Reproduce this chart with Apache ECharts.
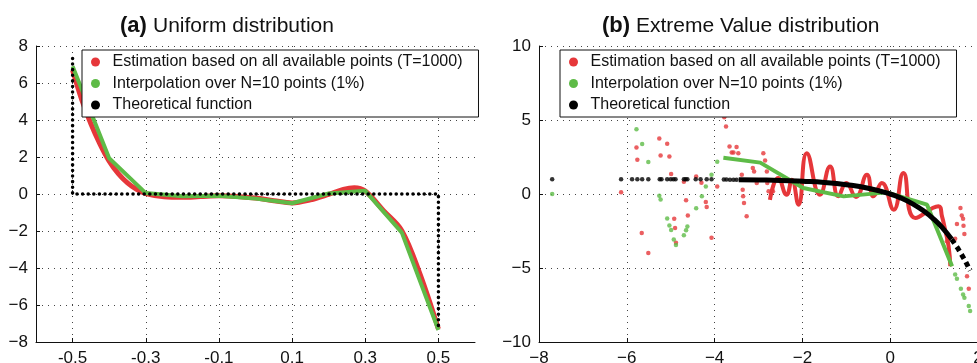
<!DOCTYPE html>
<html>
<head>
<meta charset="utf-8">
<script src="https://cdn.jsdelivr.net/npm/echarts@6/dist/echarts.min.js"></script>
<style>
  html, body { margin: 0; padding: 0; background: #fff; }
  #chart { width: 977px; height: 363px; }
</style>
</head>
<body>
<div id="chart"></div>
<script>
const NAME_EST = 'Estimation based on all available points (T=1000)';
const NAME_INT = 'Interpolation over N=10 points (1%)';
const NAME_THEO = 'Theoretical function';

const RED = '#e6373a';
const GREEN = '#5ebb47';
const BLACK = '#000';

// (a) Uniform distribution
const uniXTicks = [-0.5, -0.3, -0.1, 0.1, 0.3, 0.5];
const uniTheory = [[-0.5, 7.33], [-0.5, 0], [0.5, 0], [0.5, -7.31]];
const uniEstimate = [
  [-0.5, 6.7], [-0.475, 5.1], [-0.45, 3.8], [-0.425, 2.7], [-0.4, 1.78], [-0.375, 1.1],
  [-0.35, 0.6], [-0.325, 0.25], [-0.3, 0.02], [-0.25, -0.15], [-0.2, -0.18], [-0.15, -0.14],
  [-0.1, -0.1], [-0.05, -0.13], [0, -0.22], [0.05, -0.36], [0.1, -0.48], [0.15, -0.32],
  [0.2, -0.02], [0.24, 0.25], [0.27, 0.34], [0.3, 0.16], [0.35, -0.9], [0.4, -1.98],
  [0.45, -4.35], [0.5, -7.3]
];
const uniInterp = [
  [-0.5, 6.9], [-0.4, 1.93], [-0.3, 0.05], [-0.2, -0.12], [-0.1, -0.1], [0, -0.25],
  [0.1, -0.5], [0.2, 0.03], [0.3, 0.17], [0.4, -2.09], [0.5, -7.35]
];

// (b) Extreme Value distribution
const evTheoryDots = [
  [-7.70, 1], [-6.13, 1], [-5.88, 1], [-5.76, 1], [-5.65, 1], [-5.51, 1], [-5.25, 1],
  [-5.21, 1], [-5.08, 1], [-5.00, 1], [-4.94, 1], [-4.89, 1], [-4.70, 1], [-4.66, 1],
  [-4.62, 1], [-4.43, 1], [-4.32, 1], [-4.18, 1], [-4.07, 1], [-3.79, 0.98], [-3.73, 0.98],
  [-3.65, 0.97], [-3.57, 0.97], [-3.50, 0.97]
];
const evTheoryCurve = [
  [-3.45, 0.97], [-3, 0.95], [-2.5, 0.92], [-2, 0.86], [-1.5, 0.78], [-1, 0.63],
  [-0.5, 0.39], [0, 0], [0.25, -0.28], [0.5, -0.65], [0.75, -1.12], [1, -1.72],
  [1.2, -2.32], [1.4, -3.06]
];
const evTheoryTail = [[1.4, -3.06], [1.55, -3.71], [1.7, -4.47], [1.82, -5.17]];

const evEstimateCurve = [
  [-2.74, -0.4], [-2.55, 1.08], [-2.36, -0.05], [-2.24, 0.96], [-2.09, -0.72], [-1.9, 2.76],
  [-1.6, -0.05], [-1.37, 1.86], [-1.18, -0.16], [-1.0, 0.75], [-0.78, -0.2], [-0.53, 1.3],
  [-0.38, -0.16], [-0.19, 0.74], [0.08, -1.06], [0.3, 1.42], [0.57, -1.62], [1.1, -0.83],
  [1.18, -1.51], [1.25, -2.41], [1.33, -3.53], [1.37, -4.88]
];
const evEstimateDots = [
  [-6.13, 0.11], [-5.78, 3.14], [-5.76, 2.31], [-5.66, -2.63], [-5.51, -3.98], [-5.26, 3.75],
  [-5.23, 2.6], [-5.08, 3.39], [-5.03, 2.53], [-4.99, 1.35], [-4.92, -1.68], [-4.90, -2.29],
  [-4.88, -3.3], [-4.70, 0.83], [-4.65, -0.43], [-4.61, -1.46], [-4.42, 1.19], [-4.30, 0.76],
  [-4.20, -0.54], [-4.18, -0.88], [-4.07, -2.96], [-3.94, 0.51], [-3.78, 5.19], [-3.74, 4.56],
  [-3.66, 3.21], [-3.61, 2.8], [-3.57, 2.8], [-3.50, 3.17], [-3.46, 2.76], [-3.38, 1.3],
  [-3.36, 0.29], [-3.35, -0.16], [-3.33, -0.61], [-3.27, -1.51], [-3.13, 1.75], [-3.10, 1.52],
  [-3.04, 0.74], [-2.89, 2.76], [-2.85, 2.26], [-2.81, 1.52], [-2.80, 0.74], [-2.77, 0.18],
  [-2.67, 0.18], [1.29, -3.19], [1.33, -3.98], [1.48, -3.03], [1.52, -2.02], [1.60, -0.94],
  [1.63, -1.46], [1.66, -1.68], [1.67, -2.14], [1.69, -2.70], [1.75, -5.55], [1.79, -6.40]
];
const evInterpLine = [
  [-3.8, 2.45], [-2.96, 2.12], [-1.98, 0.4], [-1.06, -0.16], [-0.08, 0.11], [0.84, -0.72],
  [1.41, -4.88]
];
const evInterpDots = [
  [-7.70, 0], [-5.78, 4.38], [-5.65, 3.37], [-5.51, 2.16], [-5.26, -0.11], [-5.23, -0.38],
  [-5.08, -1.66], [-5.03, -2.12], [-4.99, -2.43], [-4.93, -3.08], [-4.88, -3.44], [-4.70, -2.79],
  [-4.65, -2.45], [-4.62, -2.2], [-4.42, -0.97], [-4.29, -0.16], [-4.20, 0.51], [-4.07, 1.3],
  [-3.94, 2.18], [1.48, -5.44], [1.52, -5.73], [1.61, -6.40], [1.66, -6.79], [1.69, -7.01],
  [1.79, -7.57], [1.82, -7.91]
];

const FONT = "'Liberation Sans', Arial, sans-serif";
const minus = (v) => String(v).replace('-', '\u2212');

const chart = echarts.init(document.getElementById('chart'), null, { renderer: 'canvas' });

const gridLine = { show: true, lineStyle: { color: '#444', width: 1, type: [1, 5] } };
const axisLine = { show: true, onZero: false, lineStyle: { color: '#111', width: 1 } };
const axisLabel = { color: '#111', fontSize: 17, fontFamily: FONT, margin: 8 };
const axisTick = { show: true, inside: true, length: 4, lineStyle: { color: '#111' } };

function legendFor(left) {
  return {
    left: left,
    top: 50,
    orient: 'vertical',
    backgroundColor: '#fff',
    borderColor: '#111',
    borderWidth: 1,
    padding: [4, 16, 4, 9],
    itemGap: 5.5,
    itemWidth: 24,
    itemHeight: 9,
    icon: 'circle',
    selectedMode: false,
    textStyle: { fontSize: 16, fontFamily: FONT, color: '#111' },
    data: [
      { name: NAME_EST, itemStyle: { color: RED } },
      { name: NAME_INT, itemStyle: { color: GREEN } },
      { name: NAME_THEO, itemStyle: { color: BLACK } }
    ]
  };
}

function titleFor(left, tag, text) {
  return {
    left: left,
    top: 10,
    text: '{b|' + tag + '}{n|' + text + '}',
    textStyle: {
      fontWeight: 'normal',
      fontSize: 21,
      fontFamily: FONT,
      rich: {
        b: { fontSize: 22, fontWeight: 'bold', fontFamily: FONT, color: '#111' },
        n: { fontSize: 21, fontWeight: 'normal', fontFamily: FONT, color: '#111' }
      }
    }
  };
}

const option = {
  backgroundColor: '#fff',
  animation: false,
  title: [
    titleFor(115, '(a) ', 'Uniform distribution'),
    titleFor(597, '(b)', ' Extreme Value distribution')
  ],
  legend: [legendFor(82), legendFor(560)],
  grid: [
    { left: 36, top: 46, width: 439, height: 296, outerBoundsMode: 'none' },
    { left: 539, top: 46, width: 439, height: 296, outerBoundsMode: 'none' }
  ],
  xAxis: [
    {
      gridIndex: 0, type: 'value', min: -0.6, max: 0.6,
      axisLine: axisLine,
      axisTick: Object.assign({}, axisTick, { customValues: uniXTicks }),
      axisLabel: Object.assign({}, axisLabel, { customValues: uniXTicks }),
      splitLine: gridLine
    },
    {
      gridIndex: 1, type: 'value', min: -8, max: 2, interval: 2,
      axisLine: axisLine, axisTick: axisTick,
      axisLabel: Object.assign({}, axisLabel, { formatter: minus }),
      splitLine: gridLine
    }
  ],
  yAxis: [
    {
      gridIndex: 0, type: 'value', min: -8, max: 8, interval: 2,
      axisLine: axisLine, axisTick: axisTick,
      axisLabel: Object.assign({}, axisLabel, { formatter: minus }),
      splitLine: gridLine
    },
    {
      gridIndex: 1, type: 'value', min: -10, max: 10, interval: 5,
      axisLine: axisLine, axisTick: axisTick,
      axisLabel: Object.assign({}, axisLabel, { formatter: minus }),
      splitLine: gridLine
    }
  ],
  series: [
    // panel (a)
    {
      name: NAME_EST, type: 'line', xAxisIndex: 0, yAxisIndex: 0, data: uniEstimate,
      smooth: 0.35, showSymbol: false, color: RED, lineStyle: { color: RED, width: 5 }, z: 2
    },
    {
      name: NAME_INT, type: 'line', xAxisIndex: 0, yAxisIndex: 0, data: uniInterp,
      showSymbol: false, color: GREEN, lineStyle: { color: GREEN, width: 4 }, z: 3
    },
    {
      name: NAME_THEO, type: 'line', xAxisIndex: 0, yAxisIndex: 0, data: uniTheory,
      showSymbol: false, color: BLACK,
      lineStyle: { color: BLACK, width: 3.5, type: [0.1, 5.5], cap: 'round' }, z: 4
    },
    // panel (b)
    {
      name: NAME_EST, type: 'scatter', xAxisIndex: 1, yAxisIndex: 1, data: evEstimateDots,
      symbolSize: 4.5, color: RED, itemStyle: { color: RED }, z: 2
    },
    {
      name: NAME_EST, type: 'line', xAxisIndex: 1, yAxisIndex: 1, data: evEstimateCurve,
      smooth: 0.5, showSymbol: false, color: RED, lineStyle: { color: RED, width: 4 }, z: 2
    },
    {
      name: NAME_INT, type: 'scatter', xAxisIndex: 1, yAxisIndex: 1, data: evInterpDots,
      symbolSize: 4.5, color: GREEN, itemStyle: { color: GREEN }, z: 3
    },
    {
      name: NAME_INT, type: 'line', xAxisIndex: 1, yAxisIndex: 1, data: evInterpLine,
      showSymbol: false, color: GREEN, lineStyle: { color: GREEN, width: 4 }, z: 3
    },
    {
      name: NAME_THEO, type: 'scatter', xAxisIndex: 1, yAxisIndex: 1, data: evTheoryDots,
      symbolSize: 4.5, color: BLACK, itemStyle: { color: BLACK }, z: 4
    },
    {
      name: NAME_THEO, type: 'line', xAxisIndex: 1, yAxisIndex: 1, data: evTheoryCurve,
      smooth: true, showSymbol: false, color: BLACK, lineStyle: { color: BLACK, width: 5 }, z: 4
    },
    {
      name: NAME_THEO, type: 'line', xAxisIndex: 1, yAxisIndex: 1, data: evTheoryTail,
      showSymbol: false, color: BLACK,
      lineStyle: { color: BLACK, width: 5, type: [5, 4] }, z: 4
    }
  ]
};

chart.setOption(option);
window.addEventListener('resize', () => chart.resize());
</script>
</body>
</html>
